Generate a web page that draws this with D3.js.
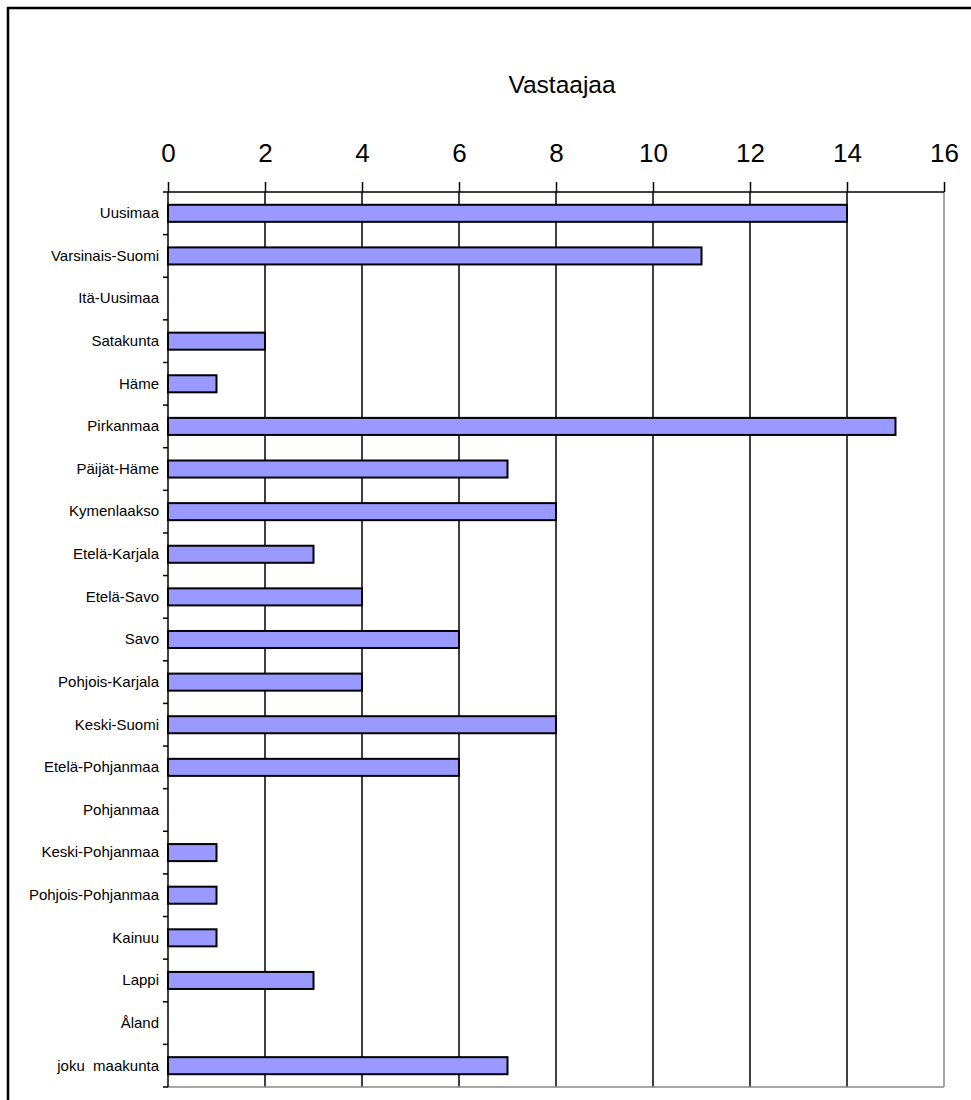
<!DOCTYPE html>
<html>
<head>
<meta charset="utf-8">
<script src="https://cdn.jsdelivr.net/npm/d3@7"></script>
<style>
  body { margin: 0; background: #fff; }
  text { font-family: "Liberation Sans", Arial, sans-serif; fill: #000; }
</style>
</head>
<body>
<div id="chart"></div>
<script>
// Regions (categories) and answer counts
const regions = ['Uusimaa', 'Varsinais-Suomi', 'Itä-Uusimaa', 'Satakunta', 'Häme', 'Pirkanmaa',
  'Päijät-Häme', 'Kymenlaakso', 'Etelä-Karjala', 'Etelä-Savo', 'Savo', 'Pohjois-Karjala',
  'Keski-Suomi', 'Etelä-Pohjanmaa', 'Pohjanmaa', 'Keski-Pohjanmaa', 'Pohjois-Pohjanmaa',
  'Kainuu', 'Lappi', 'Åland', 'joku  maakunta'];
const counts = [14, 11, 0, 2, 1, 15, 7, 8, 3, 4, 6, 4, 8, 6, 0, 1, 1, 1, 3, 0, 7];
const tickValues = [0, 2, 4, 6, 8, 10, 12, 14, 16];
const title = 'Vastaajaa';

const W = 971, H = 1100;
const plot = { left: 168, right: 944, top: 192, bottom: 1087 };

const svg = d3.select('#chart').append('svg')
  .attr('width', W).attr('height', H);

// Chart area border (runs past the window on right and bottom)
svg.append('rect')
  .attr('x', 8).attr('y', 8)
  .attr('width', W + 20).attr('height', H + 20)
  .attr('fill', '#fff')
  .attr('stroke', '#000')
  .attr('stroke-width', 2.5);

const x = d3.scaleLinear().domain([0, 16]).range([plot.left, plot.right]);
const y = d3.scaleBand().domain(regions)
  .range([plot.top, plot.bottom])
  .paddingInner(0.6).paddingOuter(0.3);

// Vertical gridlines
svg.append('g')
  .selectAll('line')
  .data(tickValues.filter(v => v > 0))
  .enter().append('line')
  .attr('x1', d => x(d)).attr('x2', d => x(d))
  .attr('y1', plot.top).attr('y2', plot.bottom)
  .attr('stroke', d => d === 16 ? '#888' : '#000')
  .attr('stroke-width', 1.5);

// Bottom border of plot area
svg.append('line')
  .attr('x1', plot.left).attr('x2', plot.right)
  .attr('y1', plot.bottom).attr('y2', plot.bottom)
  .attr('stroke', '#888').attr('stroke-width', 1.5);

// Bars
svg.append('g')
  .selectAll('rect')
  .data(regions.map((r, i) => ({ region: r, value: counts[i] })).filter(d => d.value > 0))
  .enter().append('rect')
  .attr('x', x(0))
  .attr('y', d => y(d.region))
  .attr('width', d => x(d.value) - x(0))
  .attr('height', y.bandwidth())
  .attr('fill', '#9999ff')
  .attr('stroke', '#000')
  .attr('stroke-width', 2);

// Value axis on top
const xAxis = d3.axisTop(x).tickValues(tickValues).tickSize(10).tickPadding(20);
const gx = svg.append('g')
  .attr('transform', `translate(0,${plot.top})`)
  .call(xAxis);
gx.select('.domain').attr('stroke', '#000').attr('stroke-width', 1.5).attr('d', `M${plot.left},0H${plot.right}`);
gx.selectAll('.tick line').attr('stroke', '#000').attr('stroke-width', 1.5);
gx.selectAll('.tick text')
  .style('font-family', '"Liberation Sans", Arial, sans-serif')
  .style('font-size', '26px')
  .attr('fill', '#000');

// Category axis on the left
const yAxis = d3.axisLeft(y).tickSize(0).tickPadding(9);
const gy = svg.append('g')
  .attr('transform', `translate(${plot.left},0)`)
  .call(yAxis);
gy.select('.domain').attr('stroke', '#000').attr('stroke-width', 1.5).attr('d', `M0,${plot.top}V${plot.bottom}`);
gy.selectAll('.tick text')
  .style('font-family', '"Liberation Sans", Arial, sans-serif')
  .style('font-size', '15px')
  .style('white-space', 'pre')
  .attr('fill', '#000');

// Small tick marks between categories
const step = y.step();
svg.append('g')
  .selectAll('line')
  .data(d3.range(regions.length + 1))
  .enter().append('line')
  .attr('x1', plot.left - 5).attr('x2', plot.left)
  .attr('y1', i => plot.top + i * step)
  .attr('y2', i => plot.top + i * step)
  .attr('stroke', '#000').attr('stroke-width', 1.5);

// Axis title
svg.append('text')
  .attr('x', 562).attr('y', 93)
  .attr('text-anchor', 'middle')
  .style('font-size', '24.5px')
  .text(title);
</script>
</body>
</html>
